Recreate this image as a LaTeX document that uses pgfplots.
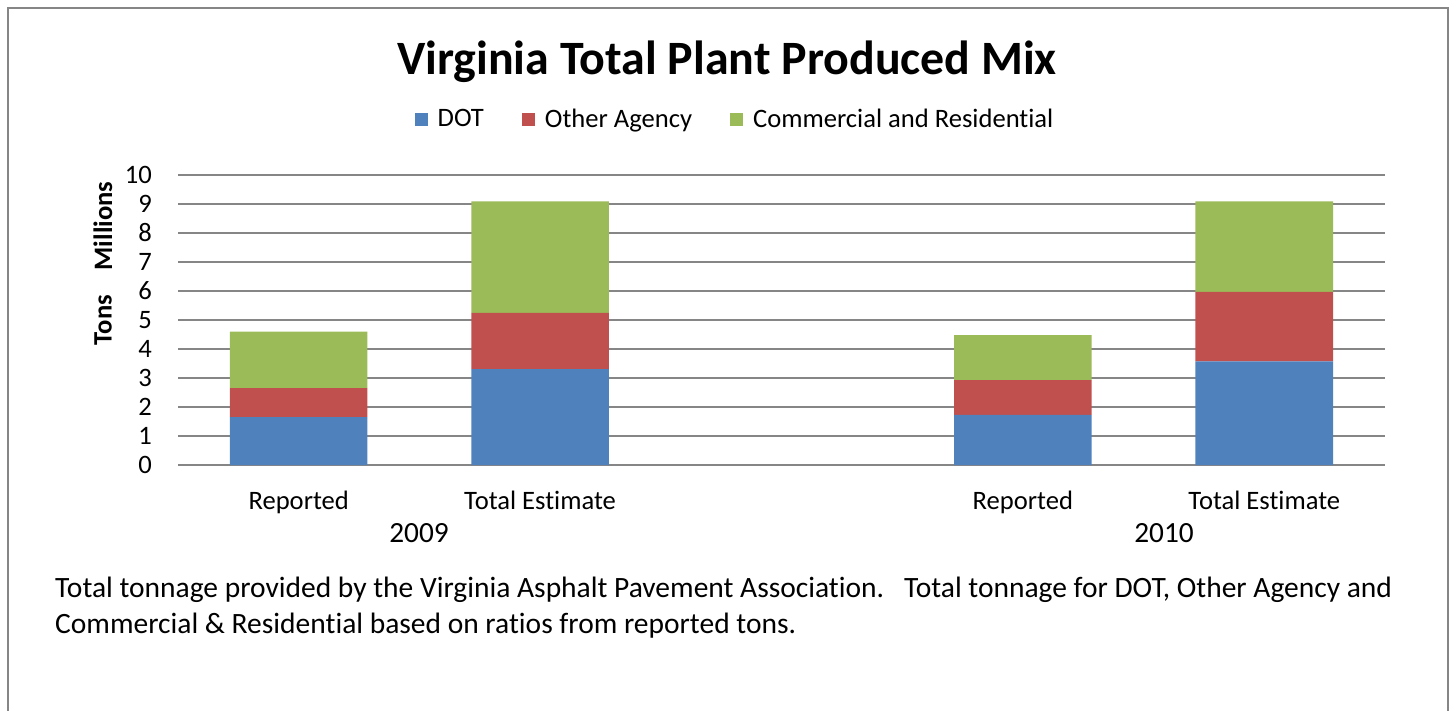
\documentclass[border=0pt]{standalone}
\usepackage{fontspec}
\setmainfont{Carlito}[Ligatures=NoCommon]
\usepackage{pgfplots}
\pgfplotsset{compat=1.18}
\definecolor{dotblue}{HTML}{4F81BD}
\definecolor{othred}{HTML}{C0504D}
\definecolor{comgreen}{HTML}{9BBB59}
\definecolor{xlgray}{HTML}{868686}
\begin{document}
\begin{tikzpicture}
\path[use as bounding box] (0pt,0pt) rectangle (1453pt,-711pt);
\draw[xlgray, line width=2pt] (8pt,-711pt) -- (8pt,-8pt) -- (1448pt,-8pt) -- (1448pt,-711pt);
\node[anchor=base, font=\fontsize{47.9}{52}\selectfont\bfseries] at (727pt,-75pt) {Virginia Total Plant Produced Mix};
\begin{axis}[
  at={(178pt,-465pt)}, anchor=south west,
  width=1207pt, height=290pt, scale only axis,
  ybar stacked, bar width=0.57,
  xmin=-0.5, xmax=4.5, ymin=0, ymax=10,
  ytick={0,1,...,10},
  xtick={0,1,3,4},
  xticklabels={Reported, Total Estimate, Reported, Total Estimate},
  axis line style={draw=none},
  major tick length=0pt,
  ymajorgrids, grid style={line width=1.6pt, xlgray},
  clip=false,
  tick label style={font=\fontsize{26.6}{30}\selectfont},
  /pgf/number format/assume math mode=true,
  yticklabel style={anchor=east, inner sep=0pt, xshift=-26pt},
  xticklabel style={anchor=base, inner sep=0pt, yshift=-44pt},
  legend columns=3,
  legend style={at={(0.4615,1.193)}, anchor=center, draw=none, fill=none,
    font=\fontsize{26.6}{30}\selectfont, inner sep=0pt,
    /tikz/every odd column/.append style={column sep=8pt},
    /tikz/every even column/.append style={column sep=36pt}},
  legend image code/.code={\fill[#1] (0pt,-6.5pt) rectangle (13pt,6.5pt);},
]
\addplot[fill=dotblue, draw=none] coordinates {(0,1.65) (1,3.31) (3,1.73) (4,3.57)};
\addplot[fill=othred, draw=none] coordinates {(0,1.00) (1,1.94) (3,1.20) (4,2.40)};
\addplot[fill=comgreen, draw=none] coordinates {(0,1.95) (1,3.84) (3,1.55) (4,3.12)};
\legend{DOT, Other Agency, Commercial and Residential}
\end{axis}
\node[rotate=90, font=\fontsize{26.6}{30}\selectfont\bfseries] at (103pt,-320pt) {Tons};
\node[rotate=90, font=\fontsize{26.6}{30}\selectfont\bfseries] at (103pt,-226pt) {Millions};
\node[anchor=base, font=\fontsize{29.3}{33}\selectfont] at (419pt,-542pt) {2009};
\node[anchor=base, font=\fontsize{29.3}{33}\selectfont] at (1164pt,-542pt) {2010};
\node[anchor=base west, inner sep=0pt, font=\fontsize{29.5}{36}\selectfont] at (55pt,-597pt) {Total tonnage provided by the Virginia Asphalt Pavement Association.\ \ \ Total tonnage for DOT, Other Agency and};
\node[anchor=base west, inner sep=0pt, font=\fontsize{29.5}{36}\selectfont] at (55pt,-633pt) {Commercial \& Residential based on ratios from reported tons.};
\end{tikzpicture}
\end{document}
